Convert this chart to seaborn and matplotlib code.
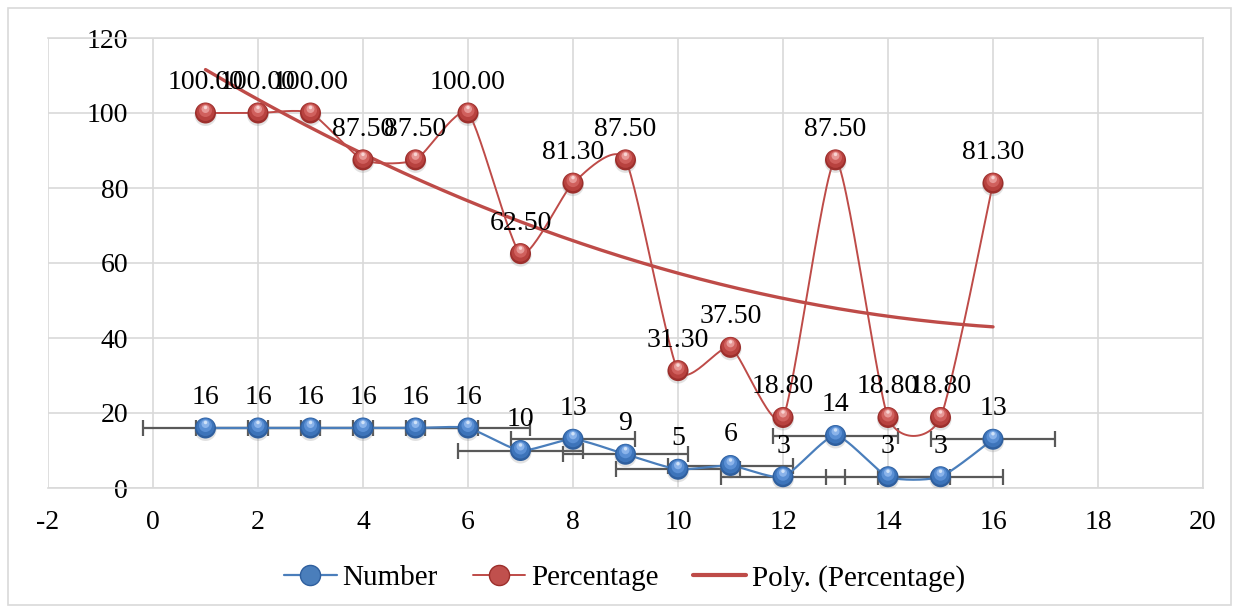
import numpy as np
import pandas as pd
import matplotlib
matplotlib.use("Agg")
import matplotlib.pyplot as plt
import matplotlib.transforms as mtransforms
from matplotlib.lines import Line2D
from matplotlib.patches import Rectangle
import seaborn as sns

# ---------------- data ----------------
x_vals = [1, 2, 3, 4, 5, 6, 7, 8, 9, 10, 11, 12, 13, 14, 15, 16]
number = [16, 16, 16, 16, 16, 16, 10, 13, 9, 5, 6, 3, 14, 3, 3, 13]
percentage = [100.0, 100.0, 100.0, 87.5, 87.5, 100.0, 62.5, 81.3, 87.5,
              31.3, 37.5, 18.8, 87.5, 18.8, 18.8, 81.3]
number_xerr = 1.19  # standard error of x, Excel style
x_ticks = [-2, 0, 2, 4, 6, 8, 10, 12, 14, 16, 18, 20]
y_ticks = [0, 20, 40, 60, 80, 100, 120]
legend_labels = ["Number", "Percentage", "Poly. (Percentage)"]

df = pd.DataFrame({"x": x_vals, "Number": number, "Percentage": percentage})

# ---------------- style ----------------
sns.set_theme(style="white")
plt.rcParams["font.family"] = ["Liberation Serif", "DejaVu Serif"]
plt.rcParams["text.color"] = "black"
FS = 20

BLUE = "#4a7ebb"
RED = "#be4b48"
GRID = "#d9d9d9"
ERR = "#595959"

W, H = 1239, 613
fig = plt.figure(figsize=(W / 100, H / 100), dpi=100)
ax = fig.add_axes([48 / W, 1 - 488 / H, (1203 - 48) / W, (488 - 38) / H])

# outer chart border
fig.patches.append(Rectangle((8 / W, 8 / H), (1231 - 8) / W, (605 - 8) / H,
                             transform=fig.transFigure, fill=False,
                             edgecolor=GRID, linewidth=1.2, zorder=0))

# y-axis crosses at x = 0 (labels sit just left of it)
ax.spines["left"].set_position(("data", 0))
ax.spines["left"].set_visible(False)


def smooth(xs, ys, k=0.1, n=30):
    P = np.column_stack([xs, ys]).astype(float)
    P = np.vstack([P[0], P, P[-1]])
    out = []
    t = np.linspace(0, 1, n)[:, None]
    for i in range(1, len(P) - 2):
        p0, p1, p2, p3 = P[i - 1], P[i], P[i + 1], P[i + 2]
        c1 = p1 + (p2 - p0) * k
        c2 = p2 - (p3 - p1) * k
        b = ((1 - t) ** 3) * p1 + 3 * ((1 - t) ** 2) * t * c1 \
            + 3 * (1 - t) * t ** 2 * c2 + t ** 3 * p2
        out.append(b)
    return np.vstack(out)


def spheres(xs, ys, layers, z):
    # layers: (diameter_px, color, dy_px, alpha)
    for i, (d, col, dy, a) in enumerate(layers):
        tr = ax.transData + mtransforms.ScaledTranslation(0, dy / 100, fig.dpi_scale_trans)
        s = (d * 0.72) ** 2
        if i == 0:
            sns.scatterplot(x=xs, y=ys, ax=ax, s=s, color=col, edgecolor="none",
                            linewidth=0, zorder=z + i * 0.01, legend=False,
                            alpha=a, transform=tr)
        else:
            ax.scatter(xs, ys, s=s, color=col, edgecolor="none", linewidth=0,
                       zorder=z + i * 0.01, alpha=a, transform=tr)


# ---------------- lines ----------------
sm_n = smooth(df["x"], df["Number"])
sm_p = smooth(df["x"], df["Percentage"])
ax.plot(sm_n[:, 0], sm_n[:, 1], color=BLUE, lw=1.6, zorder=3)
ax.plot(sm_p[:, 0], sm_p[:, 1], color=RED, lw=1.4, zorder=3)

# error bars on Number
ax.errorbar(df["x"], df["Number"], xerr=number_xerr, fmt="none", ecolor=ERR,
            elinewidth=1.6, capsize=6, capthick=1.6, zorder=2.5)

# polynomial trendline (order 2)
coef = np.polyfit(df["x"], df["Percentage"], 2)
xt = np.linspace(min(x_vals), max(x_vals), 200)
ax.plot(xt, np.polyval(coef, xt), color=RED, lw=2.4, zorder=3.5)

# markers as glossy spheres
blue_layers = [(22, "#7f7f7f", -2.0, 0.22), (21, "#2f5f9e", 0, 1), (18, "#3d74ba", 1.0, 1),
               (13, "#5a8fd4", 2.5, 1), (8, "#8ab3ea", 4.0, 1), (3.5, "#d0e2f8", 5.5, 1)]
red_layers = [(22, "#7f7f7f", -2.0, 0.22), (21, "#9c2f2c", 0, 1), (18, "#b8423f", 1.0, 1),
              (13, "#d0605d", 2.5, 1), (8, "#e79896", 4.0, 1), (3.5, "#f8d4d3", 5.5, 1)]
spheres(df["x"], df["Number"], blue_layers, 5)
spheres(df["x"], df["Percentage"], red_layers, 6)

# data labels
for xv, yv in zip(x_vals, number):
    ax.annotate(f"{yv:d}", (xv, yv), xytext=(0, 22), textcoords="offset points",
                ha="center", va="center", fontsize=FS, color="black", zorder=8)
for xv, yv in zip(x_vals, percentage):
    ax.annotate(f"{yv:.2f}", (xv, yv), xytext=(0, 22), textcoords="offset points",
                ha="center", va="center", fontsize=FS, color="black", zorder=8)

# ---------------- axes ----------------
ax.set_xlim(-2, 20)
ax.set_ylim(0, 120)
ax.set_xticks(x_ticks)
ax.set_yticks(y_ticks)
ax.set_xticklabels([str(v) for v in x_ticks])
ax.set_yticklabels([str(v) for v in y_ticks])
ax.grid(True, color=GRID, lw=1.2)
ax.set_axisbelow(True)
for side in ["top", "right", "bottom"]:
    ax.spines[side].set_color(GRID)
    ax.spines[side].set_linewidth(1.2)
ax.tick_params(axis="y", length=0, pad=18, labelcolor="black", labelsize=FS)
ax.tick_params(axis="x", length=0, pad=16, labelcolor="black", labelsize=FS)
ax.set_xlabel("")
ax.set_ylabel("")

# ---------------- legend ----------------
handles = [
    Line2D([], [], color=BLUE, lw=1.6, marker="o", markersize=14.5,
           markerfacecolor="#4a7ebb", markeredgecolor="#2f5f9e"),
    Line2D([], [], color=RED, lw=1.4, marker="o", markersize=14.5,
           markerfacecolor="#c0504d", markeredgecolor="#9c2f2c"),
    Line2D([], [], color=RED, lw=3),
]
fig.legend(handles, legend_labels, loc="center", bbox_to_anchor=(0.504, 0.057),
           ncol=3, frameon=False, fontsize=21, handlelength=1.8,
           handletextpad=0.2, columnspacing=1.2, labelcolor="black")

fig.savefig("out.png", dpi=100)
